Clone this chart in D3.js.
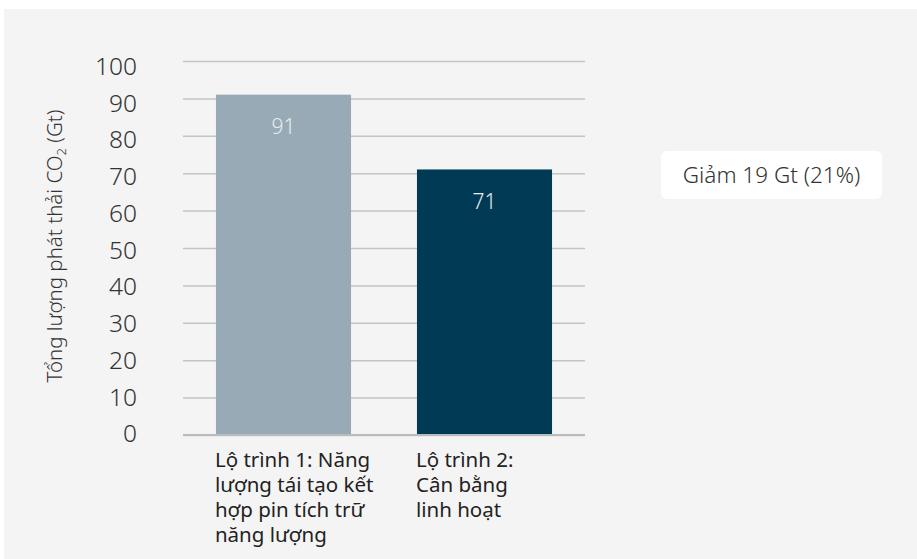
<!DOCTYPE html>
<html>
<head>
<meta charset="utf-8">
<script src="https://cdn.jsdelivr.net/npm/d3@7"></script>
<style>
  html, body { margin: 0; padding: 0; background: #ffffff; }
  svg { display: block; font-family: "Noto Sans", "Open Sans", sans-serif; }
</style>
</head>
<body>
<svg id="chart" width="917" height="559"></svg>
<script>
// Emission totals for each pathway (Gt CO2)
const categories = [
  "Lộ trình 1: Năng\nlượng tái tạo kết\nhợp pin tích trữ\nnăng lượng",
  "Lộ trình 2:\nCân bằng\nlinh hoạt"
];
const values = [91, 71];
const barColors = ["#98aab5", "#003a54"];
const yTicks = [0, 10, 20, 30, 40, 50, 60, 70, 80, 90, 100];
const axisTitle = ["Tổng lượng phát thải CO", "2", " (Gt)"];
const noteText = "Giảm 19 Gt (21%)";

const FONT = '"Noto Sans", "Open Sans", sans-serif';
const svg = d3.select("#chart");
const W = 917, H = 559;

// panel background
svg.append("rect")
  .attr("x", 4).attr("y", 9)
  .attr("width", W - 4).attr("height", H - 9)
  .attr("fill", "#f4f4f4");

const plot = { left: 183, right: 585, top: 61, bottom: 435 };

const x = d3.scaleBand()
  .domain(categories)
  .range([plot.left, plot.right])
  .paddingInner(0.328)
  .paddingOuter(0.164);

const y = d3.scaleLinear()
  .domain([0, 100])
  .range([plot.bottom, plot.top]);

// tick labels sit on a slightly tighter ladder than the gridlines
const yLabel = d3.scaleLinear()
  .domain([0, 100])
  .range([433, 65.5]);

// horizontal gridlines + tick labels
const yAxis = d3.axisLeft(y)
  .tickValues(yTicks)
  .tickSize(-(plot.right - plot.left))
  .tickPadding(46)
  .tickFormat(d3.format("d"));

const gy = svg.append("g")
  .attr("transform", `translate(${plot.left},0)`)
  .call(yAxis)
  .attr("font-family", FONT);
gy.select(".domain").remove();
gy.selectAll(".tick line")
  .attr("stroke", "#c2c4c6")
  .attr("stroke-width", 1.5);
gy.selectAll(".tick text")
  .attr("fill", "#333333")
  .attr("font-size", 24.5)
  .attr("font-weight", 300)
  .attr("y", d => yLabel(d) - y(d))
  .attr("dy", "0.36em");

// bars
svg.append("g").selectAll("rect")
  .data(values)
  .join("rect")
  .attr("x", (d, i) => x(categories[i]))
  .attr("y", d => y(d))
  .attr("width", x.bandwidth())
  .attr("height", d => y(0) - y(d))
  .attr("fill", (d, i) => barColors[i]);

// baseline
svg.append("line")
  .attr("x1", plot.left).attr("x2", plot.right)
  .attr("y1", y(0)).attr("y2", y(0))
  .attr("stroke", "#b9bbbd")
  .attr("stroke-width", 2);

// value labels inside bars
svg.append("g").selectAll("text")
  .data(values)
  .join("text")
  .attr("x", (d, i) => x(categories[i]) + x.bandwidth() / 2)
  .attr("y", d => y(d) + 32)
  .attr("dy", "0.35em")
  .attr("text-anchor", "middle")
  .attr("font-size", 21)
  .attr("font-weight", 300)
  .attr("fill", "#e6ecef")
  .text(d => d);

// category labels under the bars
const catG = svg.append("g");
categories.forEach(c => {
  const t = catG.append("text")
    .attr("x", x(c) - 1)
    .attr("y", 467)
    .attr("font-size", 20.5)
    .attr("fill", "#222222");
  c.split("\n").forEach((line, j) => {
    t.append("tspan")
      .attr("x", x(c) - 1)
      .attr("dy", j === 0 ? 0 : 25)
      .text(line);
  });
});

// rotated y-axis title with subscript
const title = svg.append("text")
  .attr("transform", "translate(62,246) rotate(-90)")
  .attr("text-anchor", "middle")
  .attr("font-size", 20.5)
  .attr("font-weight", 300)
  .attr("fill", "#333333");
title.append("tspan").text(axisTitle[0]);
title.append("tspan").attr("font-size", 13).attr("dy", 4).text(axisTitle[1]);
title.append("tspan").attr("dy", -4).text(axisTitle[2]);

// note box
const note = svg.append("g");
note.append("rect")
  .attr("x", 661).attr("y", 151)
  .attr("width", 221).attr("height", 48)
  .attr("rx", 6)
  .attr("fill", "#ffffff");
note.append("text")
  .attr("x", 771.5).attr("y", 175)
  .attr("dy", "0.35em")
  .attr("text-anchor", "middle")
  .attr("font-size", 22.5)
  .attr("font-weight", 300)
  .attr("fill", "#333333")
  .text(noteText);
</script>
</body>
</html>
